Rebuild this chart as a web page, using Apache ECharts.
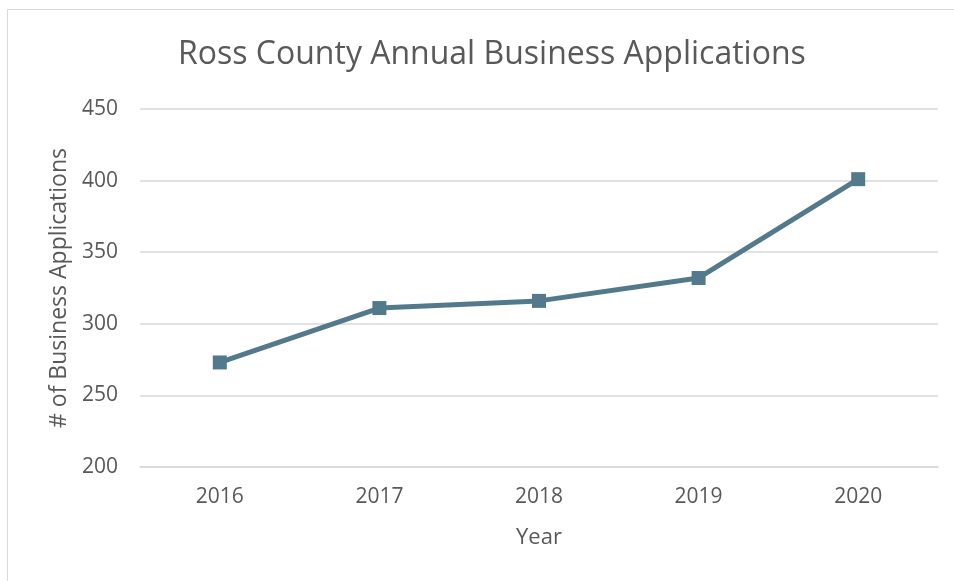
<!DOCTYPE html>
<html>
<head>
<meta charset="utf-8">
<script src="https://cdn.jsdelivr.net/npm/echarts@6/dist/echarts.min.js"></script>
<style>
  html, body { margin: 0; padding: 0; background: #fff; }
  #chart { width: 954px; height: 581px; }
</style>
</head>
<body>
<div id="chart"></div>
<script>
// data
const years = ['2016', '2017', '2018', '2019', '2020'];
const applications = [273, 311, 316, 332, 401];

const textColor = '#595959';
const fontFamily = '"Open Sans", sans-serif';

const chart = echarts.init(document.getElementById('chart'));
chart.setOption({
  backgroundColor: '#fff',
  animation: false,
  graphic: [{
    type: 'rect',
    shape: { x: 7.5, y: 9.5, width: 960, height: 600 },
    style: { fill: 'none', stroke: '#d9d9d9', lineWidth: 1 },
    silent: true
  }],
  title: {
    text: 'Ross County Annual Business Applications',
    left: 173,
    top: 34,
    textStyle: { color: textColor, fontFamily: fontFamily, fontSize: 32, fontWeight: 'normal' }
  },
  grid: { left: 140, right: 16, top: 109, bottom: 114 },
  xAxis: {
    type: 'category',
    data: years,
    boundaryGap: true,
    name: 'Year',
    nameLocation: 'middle',
    nameGap: 60,
    nameTextStyle: { color: textColor, fontFamily: fontFamily, fontSize: 22 },
    axisLine: { show: true, lineStyle: { color: '#d9d9d9', width: 1.5 } },
    axisTick: { show: false },
    axisLabel: { color: textColor, fontFamily: fontFamily, fontSize: 21, margin: 20 }
  },
  yAxis: {
    type: 'value',
    min: 200,
    max: 450,
    interval: 50,
    name: '# of Business Applications',
    nameLocation: 'middle',
    nameGap: 68,
    nameTextStyle: { color: textColor, fontFamily: fontFamily, fontSize: 23 },
    axisLine: { show: false },
    axisTick: { show: false },
    axisLabel: { color: textColor, fontFamily: fontFamily, fontSize: 21, margin: 22 },
    splitLine: { lineStyle: { color: '#d9d9d9', width: 1.5 } }
  },
  series: [{
    type: 'line',
    data: applications,
    symbol: 'rect',
    symbolSize: 14,
    lineStyle: { color: '#527a8c', width: 5 },
    itemStyle: { color: '#527a8c' }
  }]
});
</script>
</body>
</html>
